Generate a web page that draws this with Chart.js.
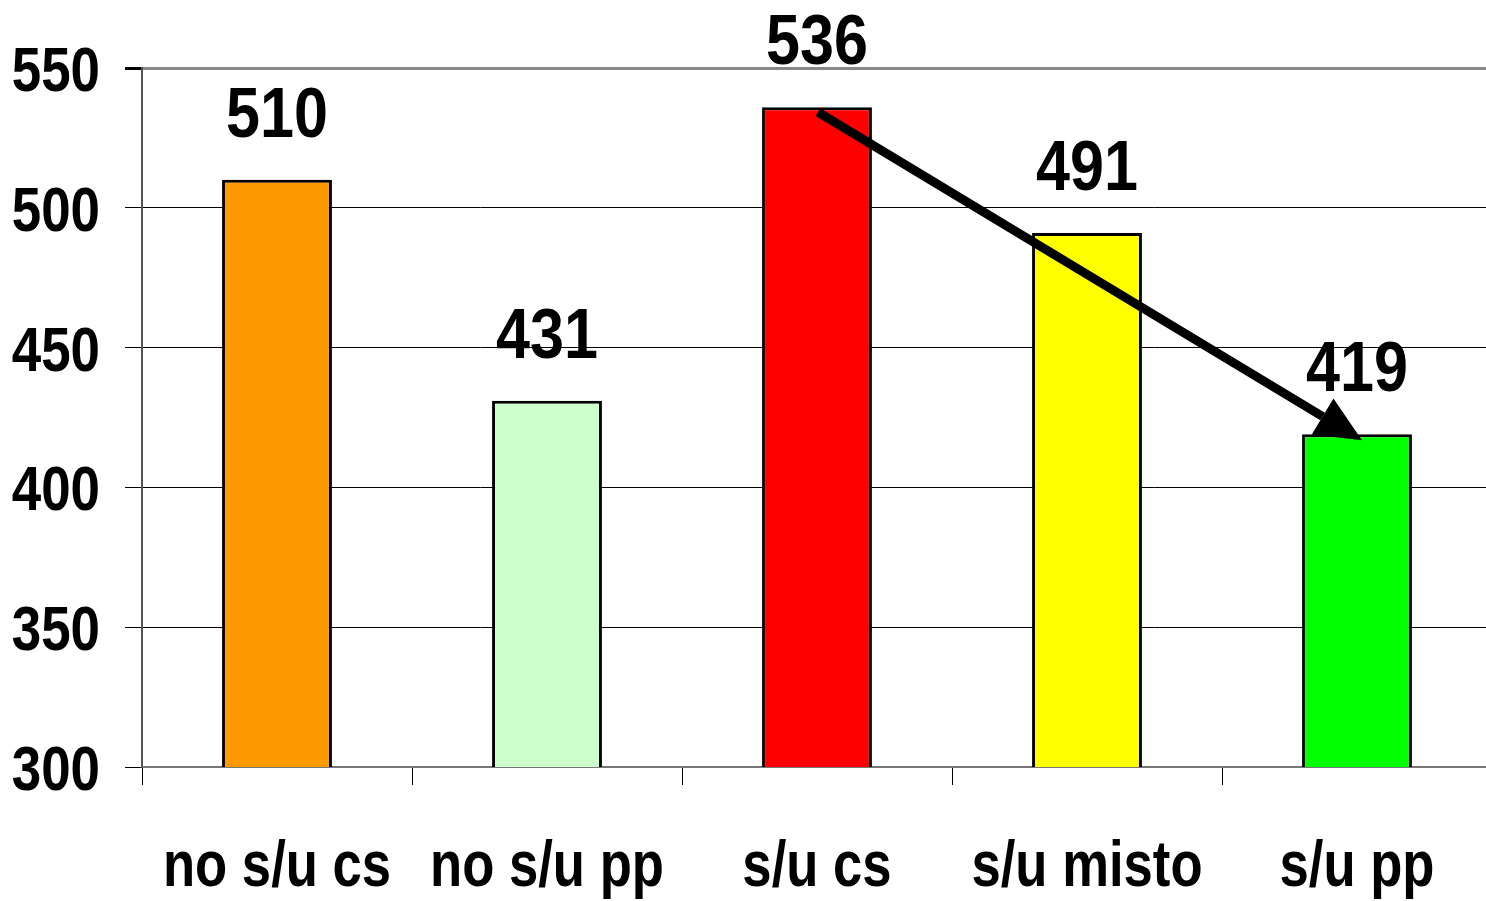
<!DOCTYPE html>
<html>
<head>
<meta charset="utf-8">
<script src="https://cdn.jsdelivr.net/npm/chart.js@4"></script>
<style>
  html, body { margin: 0; padding: 0; background: #fff; overflow: hidden; }
  #wrap { width: 1492px; height: 901px; }
</style>
</head>
<body>
<div id="wrap"><canvas id="barChart" width="1492" height="901"></canvas></div>
<script>
const categories = ["no s/u cs", "no s/u pp", "s/u cs", "s/u misto", "s/u pp"];
const values = [510, 431, 536, 491, 419];
const barColors = ["#FF9900", "#CCFFCC", "#FF0000", "#FFFF00", "#00FF00"];
const yTicks = [300, 350, 400, 450, 500, 550];
// arrow goes from the top of "s/u cs" to the top of "s/u pp"
const arrowFrom = 2;
const arrowTo = 4;

const FONT = "'Liberation Sans', Arial, sans-serif";

// no narrow font installed, so squeeze the text by hand
function narrowText(ctx, text, x, y, sx, align) {
    ctx.save();
    ctx.translate(x, y);
    ctx.scale(sx, 1);
    ctx.textAlign = align;
    ctx.textBaseline = 'alphabetic';
    ctx.fillText(text, 0, 0);
    ctx.restore();
}

const bgPlugin = {
    id: 'bg',
    beforeDraw(chart) {
        const ctx = chart.ctx;
        ctx.save();
        ctx.fillStyle = '#fff';
        ctx.fillRect(0, 0, chart.width, chart.height);
        ctx.restore();
    }
};

const textPlugin = {
    id: 'texts',
    afterDraw(chart) {
        const ctx = chart.ctx;
        const xs = chart.scales.x, ys = chart.scales.y;
        const meta = chart.getDatasetMeta(0);
        ctx.save();
        ctx.fillStyle = '#000';

        // y tick labels
        ctx.font = 'bold 63px ' + FONT;
        ys.ticks.forEach((t, i) => {
            narrowText(ctx, String(t.value), 100, ys.getPixelForTick(i) + 23, 0.84, 'right');
        });

        // category labels
        ctx.font = 'bold 65px ' + FONT;
        categories.forEach((c, i) => {
            narrowText(ctx, c, xs.getPixelForValue(i), 886, 0.81, 'center');
        });

        // value labels
        ctx.font = 'bold 71px ' + FONT;
        meta.data.forEach((bar, i) => {
            narrowText(ctx, String(values[i]), bar.x, bar.y - 43, 0.86, 'center');
        });

        // arrow
        const a = meta.data[arrowFrom], b = meta.data[arrowTo];
        const x1 = a.x + 1, y1 = a.y + 5;
        const x2 = b.x + 5, y2 = b.y + 6;
        const ang = Math.atan2(y2 - y1, x2 - x1);
        const head = 46, hw = 21;
        const bx = x2 - head * Math.cos(ang), by = y2 - head * Math.sin(ang);
        ctx.strokeStyle = '#000';
        ctx.lineWidth = 9;
        ctx.beginPath();
        ctx.moveTo(x1, y1);
        ctx.lineTo(bx, by);
        ctx.stroke();
        ctx.beginPath();
        ctx.moveTo(x2, y2);
        ctx.lineTo(bx + hw * Math.sin(ang), by - hw * Math.cos(ang));
        ctx.lineTo(bx - hw * Math.sin(ang), by + hw * Math.cos(ang));
        ctx.closePath();
        ctx.fill();
        ctx.restore();
    }
};

const CHART = document.getElementById("barChart");

let barChart = new Chart(CHART, {
    type: 'bar',
    data: {
        labels: categories,
        datasets: [{
            data: values,
            backgroundColor: barColors,
            borderColor: '#000',
            borderWidth: 3,
            borderSkipped: false,
            barPercentage: 0.407,
            categoryPercentage: 1.0
        }]
    },
    options: {
        responsive: false,
        animation: false,
        layout: { padding: { top: 68, right: 0, left: 0, bottom: 0 } },
        plugins: {
            legend: { display: false },
            tooltip: { enabled: false }
        },
        scales: {
            x: {
                offset: true,
                grid: {
                    offset: true,
                    drawOnChartArea: false,
                    color: '#000',
                    tickLength: 18,
                    lineWidth: 1
                },
                border: { color: '#777', width: 2 },
                ticks: { display: false },
                afterFit(s) { s.height = 134; }
            },
            y: {
                min: 300,
                max: 550,
                afterBuildTicks(s) { s.ticks = yTicks.map(v => ({ value: v })); },
                grid: {
                    color: ctx => ctx.tick && ctx.tick.value === 550 ? '#888' : '#000',
                    lineWidth: ctx => ctx.tick && ctx.tick.value === 550 ? 3 : 1,
                    tickColor: '#000',
                    tickLength: 17
                },
                border: { color: '#555', width: 2 },
                ticks: { display: false },
                afterFit(s) { s.width = 142; }
            }
        }
    },
    plugins: [bgPlugin, textPlugin]
});
</script>
</body>
</html>
